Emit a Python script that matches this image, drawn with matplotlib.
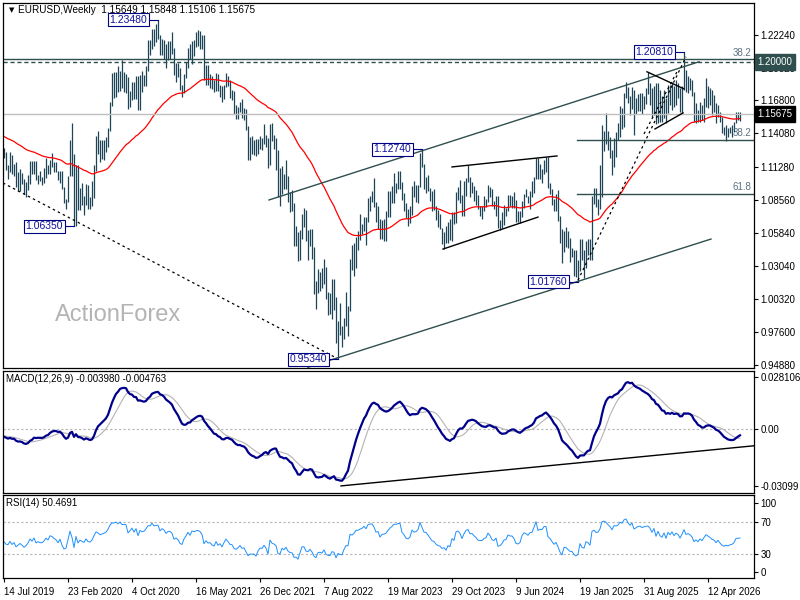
import numpy as np
import matplotlib.pyplot as plt
from matplotlib import transforms

plt.rcParams['font.family'] = ['Liberation Sans', 'DejaVu Sans']
plt.rcParams['font.size'] = 7

# weekly bars (high, low, close), first bar = week of 14 Jul 2019
w2019 = [
    (1.1286, 1.1200, 1.1219), (1.1255, 1.1101, 1.1127), (1.1148, 1.1027, 1.1108),
    (1.1250, 1.1090, 1.1201), (1.1230, 1.1066, 1.1090), (1.1153, 1.1052, 1.1143),
    (1.1165, 1.0963, 1.0990), (1.1085, 1.0926, 1.1028), (1.1110, 1.0927, 1.1073),
    (1.1075, 1.0990, 1.1016), (1.1025, 1.0905, 1.0940), (1.0999, 1.0879, 1.0978),
    (1.1063, 1.0940, 1.1042), (1.1179, 1.0990, 1.1143), (1.1179, 1.1073, 1.1080),
    (1.1176, 1.1073, 1.1165), (1.1175, 1.1016, 1.1019), (1.1065, 1.0989, 1.1051),
    (1.1097, 1.1014, 1.1020), (1.1044, 1.0981, 1.1017), (1.1117, 1.0995, 1.1059),
    (1.1200, 1.1040, 1.1122), (1.1143, 1.1066, 1.1079), (1.1187, 1.1066, 1.1177),
    (1.1240, 1.1125, 1.1163),
]
w2020 = [
    (1.1173, 1.1086, 1.1120), (1.1173, 1.1085, 1.1091), (1.1098, 1.1020, 1.1025),
    (1.1097, 1.0992, 1.1093), (1.1095, 1.0942, 1.0944), (1.0964, 1.0827, 1.0831),
    (1.0865, 1.0778, 1.0847), (1.1054, 1.0840, 1.1026), (1.1355, 1.1054, 1.1284),
    (1.1496, 1.1055, 1.1106), (1.1236, 1.0636, 1.0699), (1.1147, 1.0637, 1.1142),
    (1.1147, 1.0768, 1.0806), (1.0952, 1.0769, 1.0936), (1.0991, 1.0812, 1.0876),
    (1.0890, 1.0727, 1.0821), (1.0990, 1.0811, 1.0977), (1.0979, 1.0782, 1.0843),
    (1.0876, 1.0775, 1.0818), (1.1009, 1.0807, 1.0901), (1.1146, 1.0871, 1.1099),
    (1.1384, 1.1097, 1.1290), (1.1422, 1.1239, 1.1255), (1.1349, 1.1168, 1.1178),
    (1.1349, 1.1190, 1.1217), (1.1349, 1.1184, 1.1248), (1.1375, 1.1254, 1.1300),
    (1.1452, 1.1297, 1.1428), (1.1670, 1.1429, 1.1655), (1.1908, 1.1630, 1.1779),
    (1.1916, 1.1696, 1.1789), (1.1917, 1.1710, 1.1841), (1.1966, 1.1753, 1.1796),
    (1.1922, 1.1754, 1.1903), (1.2011, 1.1781, 1.1838), (1.1917, 1.1752, 1.1844),
    (1.1901, 1.1737, 1.1838), (1.1872, 1.1612, 1.1631), (1.1754, 1.1627, 1.1715),
    (1.1833, 1.1686, 1.1825), (1.1831, 1.1689, 1.1716), (1.1881, 1.1689, 1.1860),
    (1.1880, 1.1603, 1.1646), (1.1891, 1.1602, 1.1874), (1.1920, 1.1746, 1.1834),
    (1.1894, 1.1800, 1.1856), (1.1965, 1.1801, 1.1961), (1.2177, 1.1923, 1.2120),
    (1.2178, 1.2058, 1.2113), (1.2273, 1.2110, 1.2256), (1.2273, 1.2133, 1.2185),
    (1.2310, 1.2165, 1.2213),
]
w2021 = [
    (1.2349, 1.2192, 1.2221), (1.2223, 1.2054, 1.2078), (1.2190, 1.2055, 1.2170),
    (1.2180, 1.2020, 1.2137), (1.2150, 1.1950, 1.2047), (1.2170, 1.2013, 1.2118),
    (1.2169, 1.2023, 1.2118), (1.2243, 1.2068, 1.2075), (1.2113, 1.1893, 1.1915),
    (1.1990, 1.1835, 1.1951), (1.1990, 1.1873, 1.1905), (1.1945, 1.1762, 1.1795),
    (1.1810, 1.1704, 1.1761), (1.1900, 1.1740, 1.1900), (1.1995, 1.1869, 1.1982),
    (1.2117, 1.1950, 1.2097), (1.2150, 1.2020, 1.2020), (1.2170, 1.1985, 1.2166),
    (1.2181, 1.2051, 1.2144), (1.2245, 1.2123, 1.2181), (1.2266, 1.2129, 1.2193),
    (1.2255, 1.2105, 1.2168), (1.2218, 1.2106, 1.2107), (1.2218, 1.1847, 1.1859),
    (1.1975, 1.1805, 1.1936), (1.1975, 1.1807, 1.1865), (1.1895, 1.1781, 1.1875),
    (1.1880, 1.1772, 1.1806), (1.1850, 1.1751, 1.1772), (1.1909, 1.1760, 1.1870),
    (1.1900, 1.1760, 1.1761), (1.1805, 1.1706, 1.1795), (1.1795, 1.1664, 1.1698),
    (1.1808, 1.1693, 1.1794), (1.1909, 1.1794, 1.1880), (1.1885, 1.1802, 1.1812),
    (1.1850, 1.1700, 1.1727), (1.1762, 1.1684, 1.1719), (1.1755, 1.1563, 1.1597),
    (1.1640, 1.1529, 1.1572), (1.1624, 1.1524, 1.1601), (1.1669, 1.1586, 1.1644),
    (1.1692, 1.1535, 1.1560), (1.1616, 1.1513, 1.1568), (1.1610, 1.1433, 1.1446),
    (1.1464, 1.1186, 1.1289), (1.1373, 1.1186, 1.1317), (1.1383, 1.1234, 1.1315),
    (1.1355, 1.1227, 1.1317), (1.1360, 1.1222, 1.1239), (1.1360, 1.1235, 1.1320),
    (1.1386, 1.1280, 1.1370),
]
w2022 = [
    (1.1367, 1.1272, 1.1359), (1.1482, 1.1315, 1.1410), (1.1396, 1.1297, 1.1342),
    (1.1369, 1.1121, 1.1148), (1.1483, 1.1140, 1.1451), (1.1495, 1.1340, 1.1348),
    (1.1395, 1.1280, 1.1323), (1.1369, 1.1106, 1.1269), (1.1272, 1.0879, 1.0930),
    (1.1121, 1.0806, 1.0912), (1.1137, 1.0900, 1.1050), (1.1070, 1.0945, 1.0983),
    (1.1185, 1.0945, 1.1045), (1.1053, 1.0837, 1.0877), (1.0924, 1.0757, 1.0806),
    (1.0936, 1.0766, 1.0797), (1.0829, 1.0472, 1.0545), (1.0642, 1.0470, 1.0550),
    (1.0592, 1.0349, 1.0412), (1.0607, 1.0354, 1.0562), (1.0734, 1.0533, 1.0725),
    (1.0786, 1.0627, 1.0719), (1.0774, 1.0511, 1.0520), (1.0601, 1.0359, 1.0496),
    (1.0614, 1.0469, 1.0554), (1.0615, 1.0366, 1.0426), (1.0463, 1.0071, 1.0181),
    (1.0186, 0.9952, 1.0080), (1.0278, 1.0080, 1.0212), (1.0254, 1.0097, 1.0220),
    (1.0293, 1.0123, 1.0181), (1.0368, 1.0160, 1.0258), (1.0299, 1.0032, 1.0035),
    (1.0090, 0.9900, 0.9964), (1.0079, 0.9910, 0.9953), (1.0198, 0.9864, 1.0045),
    (1.0197, 0.9944, 1.0014), (1.0051, 0.9665, 0.9690), (0.9854, 0.9535, 0.9802),
    (0.9999, 0.9735, 0.9740), (0.9810, 0.9632, 0.9722), (0.9875, 0.9705, 0.9860),
    (1.0094, 0.9808, 0.9965), (0.9976, 0.9730, 0.9957), (1.0366, 0.9935, 1.0355),
    (1.0481, 1.0271, 1.0325), (1.0497, 1.0223, 1.0397), (1.0545, 1.0290, 1.0535),
    (1.0595, 1.0443, 1.0532), (1.0737, 1.0525, 1.0582), (1.0658, 1.0574, 1.0618),
    (1.0714, 1.0600, 1.0705),
]
w2023 = [
    (1.0713, 1.0483, 1.0645), (1.0874, 1.0669, 1.0830), (1.0887, 1.0766, 1.0856),
    (1.0929, 1.0835, 1.0870), (1.1033, 1.0796, 1.0797), (1.0840, 1.0669, 1.0676),
    (1.0804, 1.0613, 1.0694), (1.0694, 1.0533, 1.0548), (1.0692, 1.0533, 1.0635),
    (1.0700, 1.0516, 1.0642), (1.0760, 1.0516, 1.0670), (1.0930, 1.0713, 1.0760),
    (1.0925, 1.0713, 1.0840), (1.0973, 1.0830, 1.0902), (1.1075, 1.0830, 1.0990),
    (1.0995, 1.0909, 1.0985), (1.1094, 1.0943, 1.1020), (1.1092, 1.0941, 1.1020),
    (1.1000, 1.0850, 1.0855), (1.0912, 1.0760, 1.0805), (1.0830, 1.0703, 1.0722),
    (1.0780, 1.0635, 1.0707), (1.0800, 1.0667, 1.0750), (1.0970, 1.0733, 1.0940),
    (1.1010, 1.0880, 1.0894), (1.0976, 1.0835, 1.0910), (1.0975, 1.0833, 1.0966),
    (1.1244, 1.0965, 1.1229), (1.1276, 1.1124, 1.1125), (1.1150, 1.0944, 1.1015),
    (1.1047, 1.0913, 1.1006), (1.1065, 1.0930, 1.0946), (1.0955, 1.0845, 1.0872),
    (1.0930, 1.0766, 1.0794), (1.0946, 1.0774, 1.0776), (1.0800, 1.0686, 1.0699),
    (1.0770, 1.0630, 1.0659), (1.0736, 1.0616, 1.0643), (1.0620, 1.0488, 1.0573),
    (1.0590, 1.0448, 1.0587), (1.0640, 1.0495, 1.0512), (1.0670, 1.0496, 1.0594),
    (1.0695, 1.0522, 1.0564), (1.0756, 1.0517, 1.0729), (1.0756, 1.0656, 1.0686),
    (1.0917, 1.0660, 1.0913), (1.0965, 1.0852, 1.0940), (1.1017, 1.0827, 1.0885),
    (1.0895, 1.0724, 1.0763), (1.1009, 1.0723, 1.0896), (1.1040, 1.0888, 1.1013),
    (1.1140, 1.1001, 1.1039),
]
w2024 = [
    (1.1046, 1.0877, 1.0941), (1.1000, 1.0915, 1.0950), (1.0970, 1.0845, 1.0897),
    (1.0933, 1.0813, 1.0855), (1.0896, 1.0778, 1.0788), (1.0800, 1.0722, 1.0784),
    (1.0806, 1.0695, 1.0777), (1.0888, 1.0762, 1.0822), (1.0865, 1.0795, 1.0838),
    (1.0981, 1.0834, 1.0939), (1.0964, 1.0880, 1.0891), (1.0942, 1.0801, 1.0808),
    (1.0843, 1.0776, 1.0790), (1.0885, 1.0724, 1.0838), (1.0885, 1.0622, 1.0642),
    (1.0690, 1.0601, 1.0656), (1.0752, 1.0624, 1.0693), (1.0812, 1.0650, 1.0761),
    (1.0791, 1.0724, 1.0771), (1.0895, 1.0765, 1.0869), (1.0895, 1.0805, 1.0847),
    (1.0888, 1.0788, 1.0848), (1.0916, 1.0790, 1.0802), (1.0852, 1.0668, 1.0703),
    (1.0762, 1.0671, 1.0692), (1.0762, 1.0666, 1.0713), (1.0845, 1.0710, 1.0840),
    (1.0907, 1.0789, 1.0900), (1.0948, 1.0881, 1.0885), (1.0885, 1.0825, 1.0858),
    (1.0926, 1.0777, 1.0912), (1.1008, 1.0881, 1.0918), (1.1047, 1.0910, 1.1028),
    (1.1201, 1.1030, 1.1194), (1.1202, 1.1026, 1.1048), (1.1155, 1.1026, 1.1085),
    (1.1109, 1.0992, 1.1076), (1.1189, 1.1069, 1.1163), (1.1214, 1.1082, 1.1164),
    (1.1209, 1.0952, 1.0976), (1.0997, 1.0900, 1.0938), (1.0941, 1.0811, 1.0867),
    (1.0864, 1.0761, 1.0797), (1.0905, 1.0761, 1.0834), (1.0937, 1.0682, 1.0719),
    (1.0725, 1.0496, 1.0541), (1.0610, 1.0335, 1.0418), (1.0597, 1.0424, 1.0577),
    (1.0630, 1.0460, 1.0567), (1.0594, 1.0452, 1.0500), (1.0535, 1.0343, 1.0430),
    (1.0456, 1.0384, 1.0426), (1.0437, 1.0226, 1.0308),
]
w2025 = [
    (1.0437, 1.0212, 1.0244), (1.0354, 1.0177, 1.0272), (1.0533, 1.0266, 1.0492),
    (1.0533, 1.0353, 1.0362), (1.0442, 1.0210, 1.0330), (1.0513, 1.0286, 1.0491),
    (1.0528, 1.0400, 1.0459), (1.0528, 1.0360, 1.0376), (1.0889, 1.0360, 1.0834),
    (1.0955, 1.0824, 1.0882), (1.0954, 1.0797, 1.0815), (1.0858, 1.0733, 1.0825),
    (1.1146, 1.0776, 1.0962), (1.1474, 1.0880, 1.1358), (1.1424, 1.1264, 1.1392),
    (1.1573, 1.1315, 1.1363), (1.1425, 1.1265, 1.1300), (1.1380, 1.1200, 1.1250),
    (1.1265, 1.1065, 1.1163), (1.1365, 1.1130, 1.1360), (1.1420, 1.1210, 1.1350),
    (1.1495, 1.1355, 1.1396), (1.1631, 1.1373, 1.1550), (1.1615, 1.1445, 1.1523),
    (1.1745, 1.1458, 1.1720), (1.1830, 1.1700, 1.1777), (1.1790, 1.1660, 1.1690),
    (1.1720, 1.1556, 1.1627), (1.1789, 1.1610, 1.1742), (1.1770, 1.1392, 1.1588),
    (1.1700, 1.1570, 1.1642), (1.1730, 1.1590, 1.1700), (1.1740, 1.1590, 1.1718),
    (1.1740, 1.1570, 1.1685), (1.1720, 1.1610, 1.1715), (1.1780, 1.1650, 1.1733),
    (1.1918, 1.1730, 1.1745), (1.1820, 1.1645, 1.1700), (1.1785, 1.1545, 1.1620),
    (1.1795, 1.1560, 1.1740), (1.1822, 1.1480, 1.1560), (1.1822, 1.1490, 1.1720),
    (1.1767, 1.1504, 1.1600), (1.1712, 1.1504, 1.1560), (1.1767, 1.1532, 1.1700),
    (1.1698, 1.1490, 1.1540), (1.1808, 1.1573, 1.1760), (1.1808, 1.1642, 1.1680),
    (1.1836, 1.1601, 1.1800), (1.1795, 1.1628, 1.1680), (1.1850, 1.1642, 1.1780),
    (1.1822, 1.1698, 1.1740),
]
w2026 = [
    (1.1781, 1.1587, 1.1620), (1.1795, 1.1579, 1.1760), (1.2081, 1.1767, 1.1960),
    (1.1933, 1.1753, 1.1800), (1.1878, 1.1740, 1.1840), (1.1864, 1.1767, 1.1800),
    (1.1850, 1.1712, 1.1730), (1.1753, 1.1504, 1.1560), (1.1656, 1.1490, 1.1620),
    (1.1601, 1.1504, 1.1550), (1.1670, 1.1504, 1.1640), (1.1642, 1.1518, 1.1580),
    (1.1698, 1.1504, 1.1680), (1.1864, 1.1628, 1.1780), (1.1795, 1.1615, 1.1740),
    (1.1781, 1.1642, 1.1700), (1.1767, 1.1560, 1.1640), (1.1726, 1.1587, 1.1620),
    (1.1656, 1.1490, 1.1540), (1.1642, 1.1546, 1.1600), (1.1587, 1.1504, 1.1520),
    (1.1546, 1.1407, 1.1450), (1.1462, 1.1393, 1.1420), (1.1476, 1.1345, 1.1440),
    (1.1449, 1.1380, 1.1420), (1.1462, 1.1407, 1.1440), (1.1476, 1.1380, 1.1450),
    (1.1504, 1.1421, 1.1480), (1.1587, 1.1490, 1.1560), (1.1587, 1.1518, 1.1565),
    (1.15848, 1.15106, 1.15675),
]
last_open = 1.15649

# indicator values at the left edge of the chart
ema55_start = 1.1386
ema12_start = 1.1235
ema26_start = 1.1280
signal_start = -0.0038
rsi_gain_start = 0.0048
rsi_loss_start = 0.0057

date_pos = [0, 32, 64, 96, 128, 160, 192, 224, 256, 288, 320, 352]
date_labels = ['14 Jul 2019', '23 Feb 2020', '4 Oct 2020', '16 May 2021', '26 Dec 2021',
               '7 Aug 2022', '19 Mar 2023', '29 Oct 2023', '9 Jun 2024', '19 Jan 2025',
               '31 Aug 2025', '12 Apr 2026']
price_ticks = [1.2224, 1.1952, 1.1680, 1.1408, 1.1128, 1.0856, 1.0584, 1.0304,
               1.0032, 0.9760, 0.9488]

# swing high/low labels: (bar index, price, text)
swings = [(77, 1.2348, '1.23480'), (35, 1.0635, '1.06350'), (167, 0.9534, '0.95340'),
          (209, 1.1274, '1.12740'), (287, 1.0176, '1.01760'), (340, 1.2081, '1.20810')]

# drawn lines, anchors as (bar index, price)
channel_up = [(132.5, 1.0854), (347.5, 1.2000)]
channel_dn = [(152, 0.9467), (353.5, 1.0530)]
flag_top = [(224, 1.1128), (276.5, 1.1219)]
flag_bot = [(219.5, 1.0447), (267, 1.0712)]
wedge_top = [(321.5, 1.1917), (340, 1.1775)]
wedge_bot = [(325.5, 1.1443), (339.5, 1.1576)]
dash_down = [(-0.5, 1.0995), (166.5, 0.9541)]
dash_up = [(287, 1.0189), (341, 1.2041)]
dash_up2 = [(320, 1.1402), (337, 1.1933)]
macd_trend = [(168.5, -0.0311), (374.85, -0.00924)]
fib_382 = 1.1353
fib_618 = 1.0904
fib_long = 1.2019
level_120 = 1.2000

bars = w2019 + w2020 + w2021 + w2022 + w2023 + w2024 + w2025 + w2026
high = np.array([b[0] for b in bars])
low = np.array([b[1] for b in bars])
close = np.array([b[2] for b in bars])
idx = np.arange(len(bars))


def ema(vals, n, start):
    out = np.empty(len(vals))
    k = 2.0 / (n + 1)
    e = start
    for i, v in enumerate(vals):
        e = e + k * (v - e)
        out[i] = e
    return out


ema55 = ema(close, 55, ema55_start)
macd = ema(close, 12, ema12_start) - ema(close, 26, ema26_start)
sig_src = np.concatenate([np.full(8, signal_start), macd])
signal = np.convolve(sig_src, np.ones(9) / 9, mode='valid')

diff = np.diff(close, prepend=close[0])
g, l = rsi_gain_start, rsi_loss_start
rsi = np.empty(len(close))
for i, d in enumerate(diff):
    g = (g * 13 + max(d, 0)) / 14
    l = (l * 13 + max(-d, 0)) / 14
    rsi[i] = 100 - 100 / (1 + g / l)

# ---- figure ----
W, H = 800, 600
fig = plt.figure(figsize=(8, 6), dpi=100)


def box(lft, top, rgt, bot):
    return [lft / W, 1 - bot / H, (rgt - lft) / W, (bot - top) / H]


ax = fig.add_axes(box(2.7, 2.7, 753.7, 368.3))
axm = fig.add_axes(box(2.7, 370.7, 753.7, 492.7))
axr = fig.add_axes(box(2.7, 495, 753.7, 578.3))

slate = '#2f4f4f'
bar_col = '#1d4557'
navy = '#000080'

for a in (ax, axm, axr):
    a.set_xlim(-0.65, 374.85)
    for s in a.spines.values():
        s.set_color('black')
        s.set_linewidth(0.9)
    a.yaxis.tick_right()
    a.tick_params(axis='y', length=3, width=0.8, pad=2, labelsize=7, colors='black')
    a.set_xticks([])

# main price panel
ax.set_ylim(0.94582, 1.24898)
ax.vlines(idx, low, high, color=bar_col, lw=0.9)
ax.plot(idx, ema55, color='red', lw=0.9)

ax.axhline(close[-1], color='#c0c0c0', lw=1)
ax.axhline(fib_long, color=slate, lw=1)
ax.axhline(level_120, color=slate, lw=1, ls=(0, (3, 2)))
ax.plot([286.5, 374.85], [fib_382] * 2, color=slate, lw=1)
ax.plot([286.5, 374.85], [fib_618] * 2, color=slate, lw=1)
for lv, t in [(fib_long, '38.2'), (fib_382, '38.2'), (fib_618, '61.8')]:
    ax.text(373.5, lv + 0.0012, t, ha='right', va='bottom', color='#5a7280', fontsize=7)

for ln in (channel_up, channel_dn):
    ax.plot(*zip(*ln), color=slate, lw=1)
for ln in (flag_top, flag_bot, wedge_top, wedge_bot):
    ax.plot(*zip(*ln), color='black', lw=1)
for ln in (dash_down, dash_up, dash_up2):
    ax.plot(*zip(*ln), color='black', lw=0.9, ls=(0, (2, 2.5)))

for i, p, s in swings:
    xb = i - 5.5
    ax.plot([xb, i], [p, p], color=navy, lw=0.8)
    ax.text(xb, p, s, ha='right', va='center', color='#1010a0', fontsize=7.5, zorder=5,
            bbox=dict(boxstyle='square,pad=0.15', fc='white', ec=navy, lw=0.8))

ax.set_yticks(price_ticks)
ax.set_yticklabels([f'{v:.5f}' for v in price_ticks])

tr = transforms.blended_transform_factory(ax.transAxes, ax.transData)
ax.text(1.005, level_120, f'{level_120:.5f}', transform=tr, ha='left', va='center',
        color='white', fontsize=7, clip_on=False, zorder=6,
        bbox=dict(boxstyle='square,pad=0.3', fc=slate, ec=slate))
ax.text(1.005, close[-1], f'{close[-1]:.5f}', transform=tr, ha='left', va='center',
        color='white', fontsize=7, clip_on=False, zorder=6,
        bbox=dict(boxstyle='square,pad=0.3', fc='black', ec='black'))

ax.text(0.008, 0.981, '\u25bc', transform=ax.transAxes, fontsize=5, va='center',
        family='DejaVu Sans')
ax.text(0.02, 0.981,
        f'EURUSD,Weekly  {last_open:.5f} {high[-1]:.5f} {low[-1]:.5f} {close[-1]:.5f}',
        transform=ax.transAxes, va='center', fontsize=7.2)
ax.text(0.069, 0.145, 'ActionForex', transform=ax.transAxes, va='center', ha='left',
        fontsize=17, color='#b4b4b4')

# MACD panel
axm.set_ylim(-0.0348, 0.0317)
axm.axhline(0, color='#b4b4b4', lw=0.8, ls=(0, (2, 2)))
axm.plot(idx, signal, color='#b4b4b4', lw=0.8)
axm.plot(idx, macd, color='#00008b', lw=1.6)
axm.plot(*zip(*macd_trend), color='black', lw=1)
axm.set_yticks([0.028106, 0.0, -0.03099])
axm.set_yticklabels(['0.028106', '0.00', '-0.03099'])
axm.text(0.005, 0.93, 'MACD(12,26,9) -0.003980 -0.004763', transform=axm.transAxes,
         va='center', fontsize=7)

# RSI panel
axr.set_ylim(0, 104.1)
for lv in (70, 30):
    axr.axhline(lv, color='#b4b4b4', lw=0.8, ls=(0, (2, 2)))
axr.plot(idx, rsi, color='#1e90ff', lw=0.7)
axr.set_yticks([94, 70, 30, 7.5])
axr.set_yticklabels(['100', '70', '30', '0'])
axr.text(0.005, 0.9, 'RSI(14) 50.4691', transform=axr.transAxes, va='center', fontsize=7)

axr.set_xticks(date_pos)
axr.set_xticklabels(date_labels)
axr.tick_params(axis='x', length=3, width=0.8, pad=3, labelsize=7)
for lb in axr.get_xticklabels():
    lb.set_ha('left')

fig.savefig('out.png', dpi=100)
